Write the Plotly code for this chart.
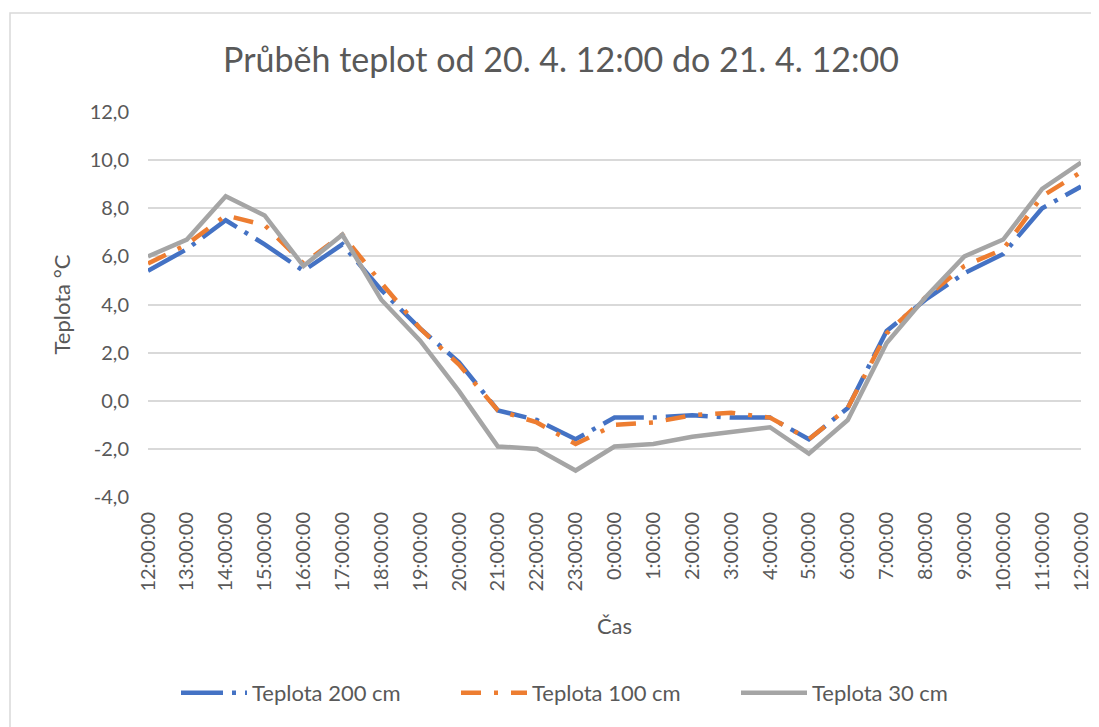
import plotly.graph_objects as go

# hodiny od 20. 4. 12:00 do 21. 4. 12:00
cas = ["12:00:00", "13:00:00", "14:00:00", "15:00:00", "16:00:00", "17:00:00",
       "18:00:00", "19:00:00", "20:00:00", "21:00:00", "22:00:00", "23:00:00",
       "0:00:00", "1:00:00", "2:00:00", "3:00:00", "4:00:00", "5:00:00",
       "6:00:00", "7:00:00", "8:00:00", "9:00:00", "10:00:00", "11:00:00",
       "12:00:00"]

teplota_200 = [5.4, 6.3, 7.5, 6.5, 5.4, 6.5, 4.6, 3.0, 1.6, -0.4, -0.8, -1.6, -0.7,
               -0.7, -0.6, -0.7, -0.7, -1.6, -0.3, 2.9, 4.2, 5.3, 6.1, 8.0, 8.9]
teplota_100 = [5.7, 6.5, 7.7, 7.3, 5.7, 6.9, 4.9, 3.0, 1.5, -0.4, -0.9, -1.8, -1.0,
               -0.9, -0.6, -0.5, -0.7, -1.6, -0.3, 2.8, 4.3, 5.6, 6.3, 8.5, 9.5]
teplota_30 = [6.0, 6.7, 8.5, 7.7, 5.6, 6.9, 4.2, 2.5, 0.4, -1.9, -2.0, -2.9, -1.9,
              -1.8, -1.5, -1.3, -1.1, -2.2, -0.8, 2.4, 4.3, 6.0, 6.7, 8.8, 9.9]

yticks = [-4, -2, 0, 2, 4, 6, 8, 10, 12]
ytick_text = ["-4,0", "-2,0", "0,0", "2,0", "4,0", "6,0", "8,0", "10,0", "12,0"]

x = list(range(len(cas)))
text_color = "#595959"
font = "Lato"

# figure pixels (the page puts the figure 8px in from the corner)
W, H = 1099, 727
left, right, top, bottom = 140, 1073, 104, 489
pw, ph = right - left, bottom - top

fig = go.Figure()
fig.add_trace(go.Scatter(x=x, y=teplota_200, mode="lines", name="Teplota 200 cm",
                         line=dict(color="#4472C4", width=4.5, dash="42px,9px,4px,9px")))
fig.add_trace(go.Scatter(x=x, y=teplota_100, mode="lines", name="Teplota 100 cm",
                         line=dict(color="#ED7D31", width=4.5, dash="20px,13px,4px,13px")))
fig.add_trace(go.Scatter(x=x, y=teplota_30, mode="lines", name="Teplota 30 cm",
                         line=dict(color="#A5A5A5", width=4.5)))

fig.update_layout(
    width=W, height=H,
    margin=dict(l=left, r=W - right, t=top, b=H - bottom),
    paper_bgcolor="white", plot_bgcolor="white",
    font=dict(family=font, color=text_color, size=20),
    title=dict(text="Průběh teplot od 20. 4. 12:00 do 21. 4. 12:00",
               x=553 / W, xanchor="center", y=1 - 52 / H, yanchor="middle",
               font=dict(size=34, color=text_color)),
    showlegend=True,
    legend=dict(orientation="h", xref="container", yref="container",
                x=168 / W, xanchor="left", y=1 - 685 / H, yanchor="middle",
                itemwidth=66, entrywidth=199, entrywidthmode="pixels",
                font=dict(size=22, color=text_color)),
    shapes=[dict(type="rect", xref="paper", yref="paper",
                 x0=(2 - left) / pw, x1=1.2, y0=-1.0, y1=(bottom - 5) / ph,
                 line=dict(color="#D9D9D9", width=1.5), fillcolor="rgba(0,0,0,0)",
                 layer="below")],
)

fig.update_xaxes(
    range=[0, len(cas) - 1], tickvals=x, ticktext=cas, tickangle=-90,
    showgrid=False, zeroline=False, showline=False, ticks="",
    ticklabelstandoff=10,
    title=dict(text="Čas", standoff=27, font=dict(size=22, color=text_color)),
)
fig.update_yaxes(
    range=[-4, 12], tickvals=yticks, ticktext=ytick_text,
    showgrid=True, gridcolor="#D9D9D9", gridwidth=1.5, zeroline=False,
    showline=False, ticks="", ticklabelstandoff=18,
    title=dict(text="Teplota °C", standoff=12, font=dict(size=22, color=text_color)),
)

fig.write_html("out.html")
